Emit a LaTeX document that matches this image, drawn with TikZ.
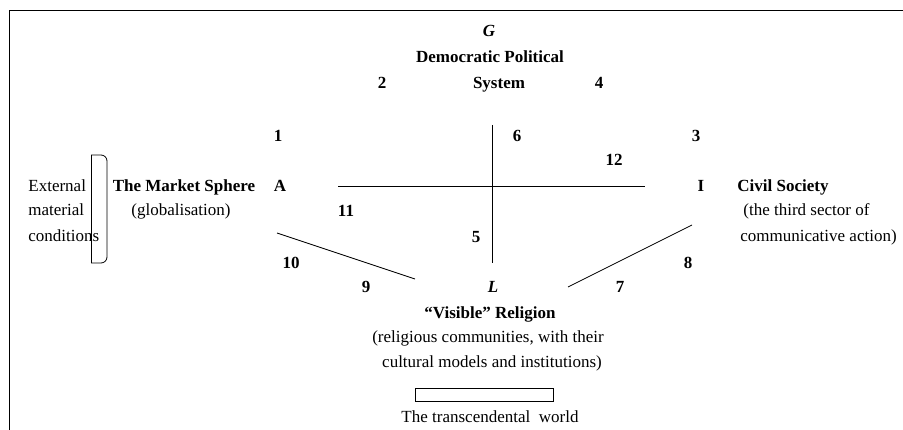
\documentclass[tikz,border=0pt]{standalone}
\usepackage{fontspec}
\setmainfont{Liberation Serif}
\usetikzlibrary{positioning}
\newcommand{\agilfont}{\fontsize{17}{25}\selectfont}
\tikzset{
  txt/.style={inner sep=0pt, anchor=base, font=\agilfont},
  lft/.style={txt, anchor=base west},
  hd/.style={txt, font=\agilfont\bfseries},
  num/.style={txt, font=\agilfont\bfseries},
  fn/.style={txt, font=\agilfont\bfseries\itshape},
}
\begin{document}
\begin{tikzpicture}[x=1pt,y=-1pt,line width=0.8pt]
\useasboundingbox (0,0) rectangle (903,430);
% frame
\draw[line width=1pt] (903,11) -- (9.5,11) -- (9.5,430);

% G: political system
\node[fn] (g) at (489,37) {G};
\node[hd] (polsys) at (490,63) {Democratic Political};
\node[hd] (sys) at (499,89) {System};
\node[num] (n2) at (382,89) {2};
\node[num] (n4) at (599,89) {4};

% A: market sphere
\node[num] (a) at (280,192) {A};
\node[hd] (market) at (184,192) {The Market Sphere};
\node[txt] (glob) at (181,216) {(globalisation)};
\node[lft] (ext1) at (28,192) {External};
\node[lft] (ext2) at (28,216) {material};
\node[lft] (ext3) at (28,242) {conditions};
\draw[rounded corners=6pt] (91,155) -- (107,155) -- (107,263) -- (91,263);
\draw (91,155) -- (91,263);

% I: civil society
\node[num] (i) at (701,192) {I};
\node[hd, anchor=base west] (civil) at (737,192) {Civil Society};
\node[lft] (civ2) at (743,216) {(the third sector of};
\node[lft] (civ3) at (740,242) {communicative action)};

% L: visible religion
\node[fn] (l) at (493,293) {L};
\node[hd] (visible) at (490,319) {“Visible” Religion};
\node[txt] (rel2) at (488,343) {(religious communities, with their};
\node[txt] (rel3) at (492,368) {cultural models and institutions)};
\draw (415,388) rectangle (553,401);
\node[txt] (trans) at (490,423) {The transcendental\ \ world};

% numbers
\node[num] (n1) at (278,142) {1};
\node[num] (n6) at (517,142) {6};
\node[num] (n3) at (696,142) {3};
\node[num] (n12) at (614,166) {12};
\node[num] (n11) at (346,217) {11};
\node[num] (n5) at (476,243) {5};
\node[num] (n10) at (291,269) {10};
\node[num] (n8) at (688,269) {8};
\node[num] (n9) at (366,293) {9};
\node[num] (n7) at (620,293) {7};

% axes
\coordinate (ai-w) at (338,186.5);
\coordinate (ai-e) at (645,186.5);
\coordinate (gl-n) at (492,125);
\coordinate (gl-s) at (492,263);
\coordinate (al-w) at (277,233);
\coordinate (al-e) at (415,279);
\coordinate (li-w) at (568,287);
\coordinate (li-e) at (692,225);
\draw (ai-w) -- (ai-e);
\draw (gl-n) -- (gl-s);
\draw (al-w) -- (al-e);
\draw (li-w) -- (li-e);
\end{tikzpicture}
\end{document}
